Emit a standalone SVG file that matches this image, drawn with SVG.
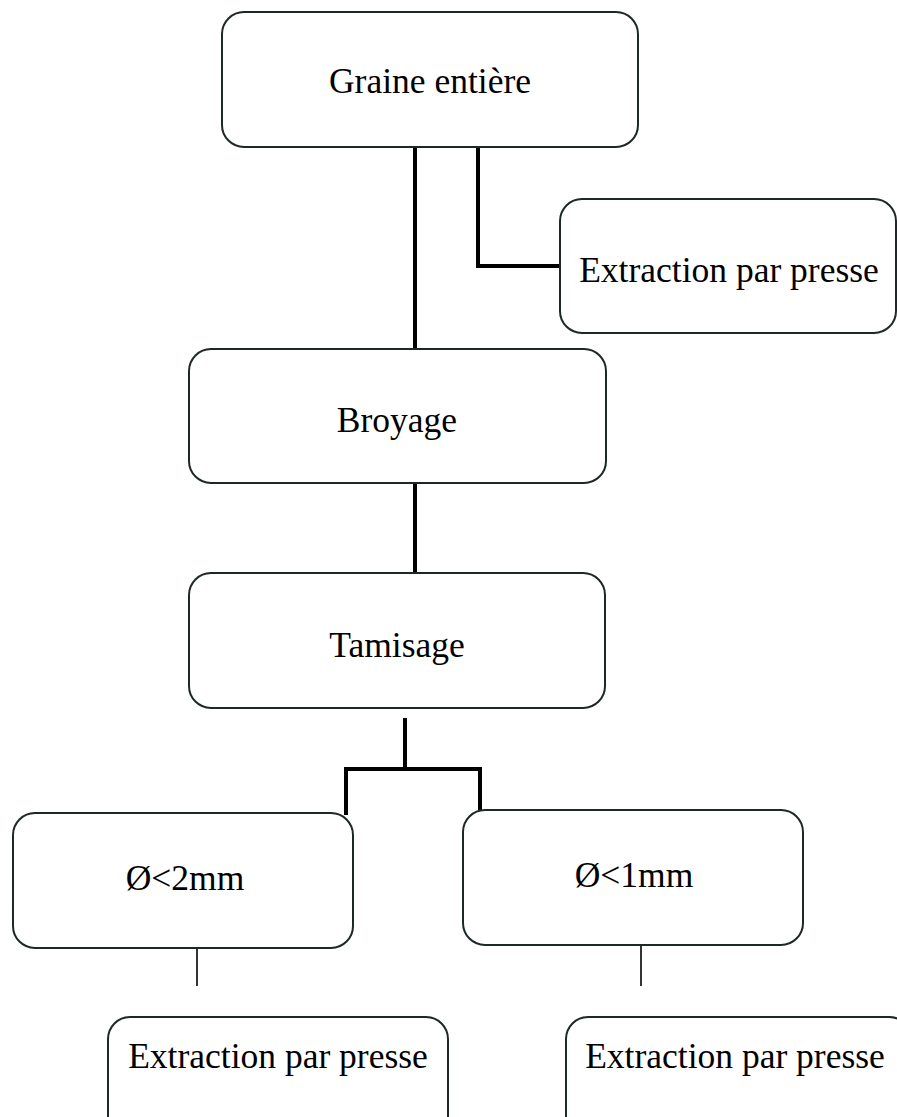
<svg xmlns="http://www.w3.org/2000/svg" width="897" height="1117" viewBox="0 0 897 1117">
<style>
.box{fill:#fff;stroke:#1e2828;stroke-width:2}
.lbl{font-family:"Liberation Serif","Times New Roman",serif;font-size:35.5px;fill:#000;text-anchor:middle}
.thick{fill:none;stroke:#000;stroke-width:4}
.thin{fill:none;stroke:#000;stroke-width:1.6}
</style>
<rect width="897" height="1117" fill="#fff"/>
<g id="connectors">
<line class="thick" x1="415" y1="147" x2="415" y2="349"/>
<polyline class="thick" points="478,147 478,266 560,266"/>
<line class="thick" x1="415" y1="483" x2="415" y2="573"/>
<line class="thick" x1="405" y1="718" x2="405" y2="769"/>
<polyline class="thick" points="346,815 346,769 480,769 480,810"/>
<line class="thin" x1="197" y1="948" x2="197" y2="986"/>
<line class="thin" x1="641" y1="945" x2="641" y2="986"/>
</g>
<g id="graine">
<rect class="box" x="222" y="12" width="416" height="135" rx="22"/>
<text class="lbl" x="430" y="93">Graine entière</text>
</g>
<g id="extraction1">
<rect class="box" x="560" y="199" width="336" height="134" rx="22"/>
<text class="lbl" x="729" y="282">Extraction par presse</text>
</g>
<g id="broyage">
<rect class="box" x="189" y="349" width="417" height="134" rx="22"/>
<text class="lbl" x="397" y="432">Broyage</text>
</g>
<g id="tamisage">
<rect class="box" x="189" y="573" width="416" height="135" rx="22"/>
<text class="lbl" x="397" y="657">Tamisage</text>
</g>
<g id="d2mm">
<rect class="box" x="13" y="813" width="340" height="135" rx="22"/>
<text class="lbl" x="185" y="890">Ø&lt;2mm</text>
</g>
<g id="d1mm">
<rect class="box" x="463" y="810" width="340" height="135" rx="22"/>
<text class="lbl" x="634" y="887">Ø&lt;1mm</text>
</g>
<g id="extraction2">
<rect class="box" x="108" y="1017" width="340" height="130" rx="22"/>
<text class="lbl" x="278" y="1068">Extraction par presse</text>
</g>
<g id="extraction3">
<rect class="box" x="566" y="1017" width="345" height="130" rx="22"/>
<text class="lbl" x="735" y="1068">Extraction par presse</text>
</g>
</svg>
